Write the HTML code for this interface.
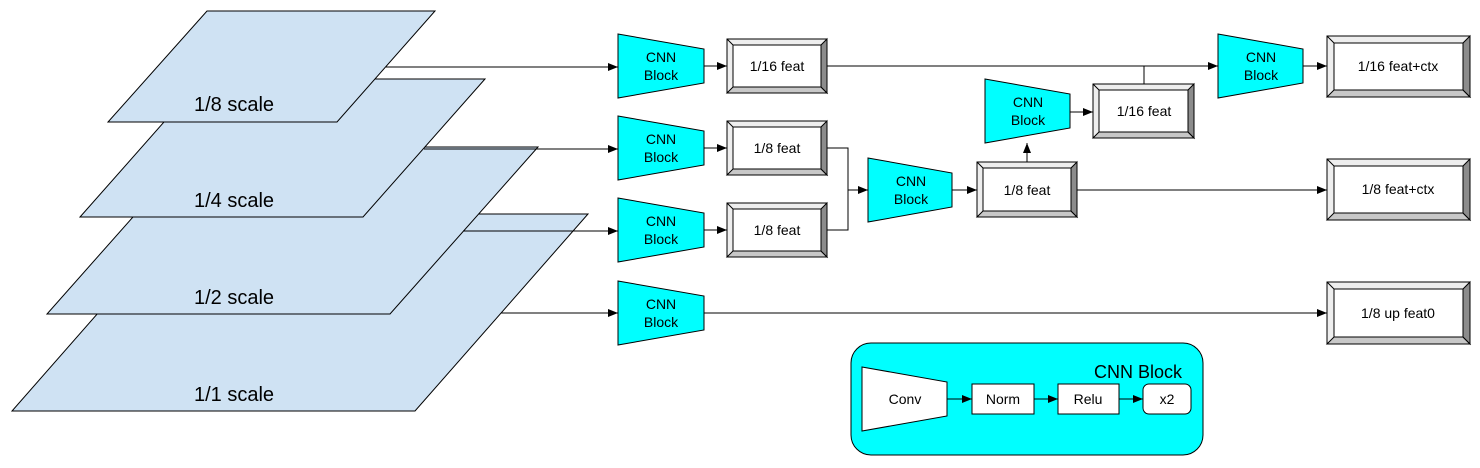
<!DOCTYPE html>
<html><head><meta charset="utf-8"><style>
html,body{margin:0;padding:0;background:#fff;}
svg{display:block;font-family:"Liberation Sans",Arial,sans-serif;}
</style></head><body>
<svg width="1480" height="468" viewBox="0 0 1480 468" xmlns="http://www.w3.org/2000/svg">
<defs>
<marker id="a" markerWidth="10" markerHeight="8" refX="10" refY="4" orient="auto" markerUnits="userSpaceOnUse">
<path d="M0,0 L10,4 L0,8 z" fill="#000"/></marker>
</defs>
<g stroke="#000" stroke-width="1" fill="#cfe2f3">
<polygon points="185,214 588,214 415,411 12,411"/>
<line x1="501" y1="313" x2="618" y2="313" marker-end="url(#a)"/>
<polygon points="195,147 538,147 390,314 47,314"/>
<line x1="463" y1="231" x2="618" y2="231" marker-end="url(#a)"/>
<polygon points="202,79 485,79 363,217 80,217"/>
<line x1="424" y1="149" x2="618" y2="149" marker-end="url(#a)"/>
<polygon points="207,11 435,11 337,122 108,122"/>
<line x1="386" y1="67" x2="618" y2="67" marker-end="url(#a)"/>
</g>
<g font-size="20" fill="#000" text-anchor="middle">
<text x="234" y="111">1/8 scale</text>
<text x="234" y="207">1/4 scale</text>
<text x="234" y="304">1/2 scale</text>
<text x="234" y="401">1/1 scale</text>
</g>

<!-- connectors -->
<g stroke="#000" stroke-width="1" fill="none">
<line x1="704" y1="66" x2="727" y2="66" marker-end="url(#a)"/>
<line x1="704" y1="148" x2="727" y2="148" marker-end="url(#a)"/>
<line x1="704" y1="230" x2="727" y2="230" marker-end="url(#a)"/>
<line x1="704" y1="313" x2="1327" y2="313" marker-end="url(#a)"/>
<line x1="827" y1="66" x2="1218" y2="66" marker-end="url(#a)"/>
<polyline points="827,148 848,148 848,230 827,230"/>
<line x1="848" y1="190" x2="868" y2="190" marker-end="url(#a)"/>
<line x1="952" y1="190" x2="977" y2="190" marker-end="url(#a)"/>
<line x1="1027" y1="162" x2="1027" y2="143" marker-end="url(#a)"/>
<line x1="1070" y1="112" x2="1093" y2="112" marker-end="url(#a)"/>
<line x1="1144" y1="84" x2="1144" y2="66"/>
<line x1="1077" y1="190" x2="1327" y2="190" marker-end="url(#a)"/>
<line x1="1303" y1="66" x2="1327" y2="66" marker-end="url(#a)"/>
</g>

<!-- CNN blocks -->
<g stroke="#000" stroke-width="1" fill="#00ffff">
<polygon points="618,34 704,49 704,83 618,98"/>
<polygon points="618,116 704,131 704,165 618,180"/>
<polygon points="618,198 704,213 704,247 618,262"/>
<polygon points="618,281 704,296 704,330 618,345"/>
<polygon points="868,158 952,173 952,207 868,222"/>
<polygon points="985,79 1070,94 1070,128 985,143"/>
<polygon points="1218,34 1303,49 1303,83 1218,98"/>
</g>
<g font-size="14" fill="#000" text-anchor="middle">
<text x="661" y="62">CNN</text><text x="661" y="80">Block</text>
<text x="661" y="144">CNN</text><text x="661" y="162">Block</text>
<text x="661" y="226">CNN</text><text x="661" y="244">Block</text>
<text x="661" y="309">CNN</text><text x="661" y="327">Block</text>
<text x="911" y="186">CNN</text><text x="911" y="204">Block</text>
<text x="1028" y="107">CNN</text><text x="1028" y="125">Block</text>
<text x="1261" y="62">CNN</text><text x="1261" y="80">Block</text>
</g>

<!-- bevel boxes -->
<g stroke="#000" stroke-width="1">
<rect x="727" y="39" width="100" height="54" fill="#eee"/>
<polygon points="727,93 733,87 821,87 827,93" fill="#c8c8c8"/>
<polygon points="827,39 827,93 821,87 821,45" fill="#8c8c8c"/>
<line x1="727" y1="39" x2="733" y2="45"/>
<rect x="733" y="45" width="88" height="42" fill="#fff"/>

<rect x="727" y="121" width="100" height="54" fill="#eee"/>
<polygon points="727,175 733,169 821,169 827,175" fill="#c8c8c8"/>
<polygon points="827,121 827,175 821,169 821,127" fill="#8c8c8c"/>
<line x1="727" y1="121" x2="733" y2="127"/>
<rect x="733" y="127" width="88" height="42" fill="#fff"/>

<rect x="727" y="203" width="100" height="54" fill="#eee"/>
<polygon points="727,257 733,251 821,251 827,257" fill="#c8c8c8"/>
<polygon points="827,203 827,257 821,251 821,209" fill="#8c8c8c"/>
<line x1="727" y1="203" x2="733" y2="209"/>
<rect x="733" y="209" width="88" height="42" fill="#fff"/>

<rect x="977" y="162" width="100" height="55" fill="#eee"/>
<polygon points="977,217 983,211 1071,211 1077,217" fill="#c8c8c8"/>
<polygon points="1077,162 1077,217 1071,211 1071,168" fill="#8c8c8c"/>
<line x1="977" y1="162" x2="983" y2="168"/>
<rect x="983" y="168" width="88" height="43" fill="#fff"/>

<rect x="1093" y="84" width="101" height="54" fill="#eee"/>
<polygon points="1093,138 1099,132 1188,132 1194,138" fill="#c8c8c8"/>
<polygon points="1194,84 1194,138 1188,132 1188,90" fill="#8c8c8c"/>
<line x1="1093" y1="84" x2="1099" y2="90"/>
<rect x="1099" y="90" width="89" height="42" fill="#fff"/>

<rect x="1327" y="36" width="143" height="61" fill="#eee"/>
<polygon points="1327,97 1334,90 1463,90 1470,97" fill="#c8c8c8"/>
<polygon points="1470,36 1470,97 1463,90 1463,43" fill="#8c8c8c"/>
<line x1="1327" y1="36" x2="1334" y2="43"/>
<rect x="1334" y="43" width="129" height="47" fill="#fff"/>

<rect x="1327" y="159" width="143" height="61" fill="#eee"/>
<polygon points="1327,220 1334,213 1463,213 1470,220" fill="#c8c8c8"/>
<polygon points="1470,159 1470,220 1463,213 1463,166" fill="#8c8c8c"/>
<line x1="1327" y1="159" x2="1334" y2="166"/>
<rect x="1334" y="166" width="129" height="47" fill="#fff"/>

<rect x="1327" y="282" width="143" height="62" fill="#eee"/>
<polygon points="1327,344 1334,337 1463,337 1470,344" fill="#c8c8c8"/>
<polygon points="1470,282 1470,344 1463,337 1463,289" fill="#8c8c8c"/>
<line x1="1327" y1="282" x2="1334" y2="289"/>
<rect x="1334" y="289" width="129" height="48" fill="#fff"/>
</g>
<g font-size="14" fill="#000" text-anchor="middle">
<text x="777" y="71">1/16 feat</text>
<text x="777" y="153">1/8 feat</text>
<text x="777" y="235">1/8 feat</text>
<text x="1027" y="195">1/8 feat</text>
<text x="1144" y="116">1/16 feat</text>
<text x="1398" y="71">1/16 feat+ctx</text>
<text x="1398" y="194">1/8 feat+ctx</text>
<text x="1398" y="318">1/8 up feat0</text>
</g>

<!-- legend -->
<rect x="851" y="343" width="352" height="112" rx="20" fill="#00ffff" stroke="#000"/>
<text x="1182" y="378" font-size="18" text-anchor="end">CNN Block</text>
<g stroke="#000" stroke-width="1">
<polygon points="862,367 947,382 947,416 862,431" fill="#fff"/>
<rect x="972" y="384" width="62" height="30" fill="#fff"/>
<rect x="1058" y="384" width="61" height="30" fill="#fff"/>
<rect x="1143" y="384" width="48" height="30" rx="6" fill="#fff"/>
<line x1="947" y1="399" x2="972" y2="399" marker-end="url(#a)"/>
<line x1="1034" y1="399" x2="1058" y2="399" marker-end="url(#a)"/>
<line x1="1119" y1="399" x2="1143" y2="399" marker-end="url(#a)"/>
</g>
<g font-size="14" fill="#000" text-anchor="middle">
<text x="905" y="404">Conv</text>
<text x="1003" y="404">Norm</text>
<text x="1088" y="404">Relu</text>
<text x="1167" y="404">x2</text>
</g>
</svg>
</body></html>
